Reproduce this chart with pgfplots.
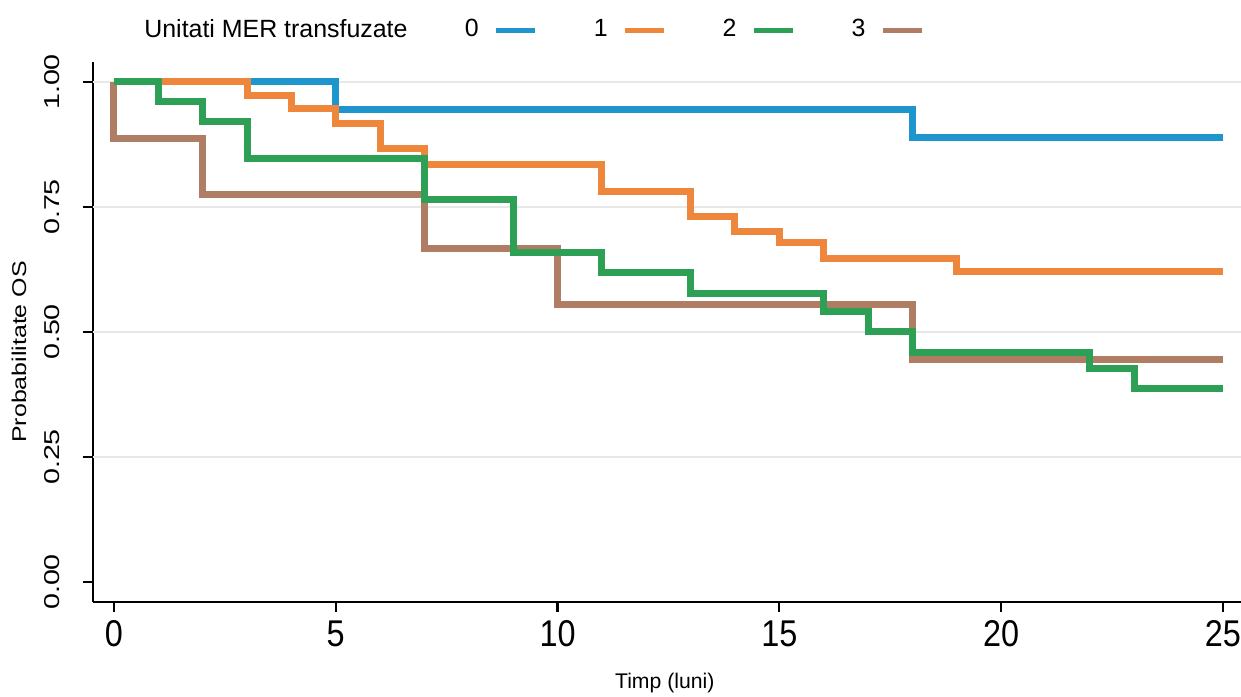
\documentclass[border=0pt]{standalone}
\usepackage{graphicx}
\usepackage{fontspec}
\setmainfont{Liberation Sans}
\usepackage{pgfplots}
\pgfplotsset{compat=1.18}
\definecolor{c0}{RGB}{30,150,205}
\definecolor{c1}{RGB}{238,135,60}
\definecolor{c2}{RGB}{45,160,85}
\definecolor{c3}{RGB}{175,125,100}
\definecolor{gridc}{RGB}{232,232,232}
\begin{document}
\begin{tikzpicture}
\path[use as bounding box] (0,0) rectangle (17.5cm,9.815cm);
\begin{axis}[
  at={(1.311cm,1.326cm)}, anchor=south west,
  scale only axis, width=16.19cm, height=7.615cm,
  xmin=-0.473, xmax=25.41, ymin=-0.04, ymax=1.04,
  axis lines*=left,
  axis line style={black, line width=0.9pt, -},
  tick align=outside,
  major tick length=4pt,
  tick style={black, line width=0.9pt},
  xtick={0,5,10,15,20,25},
  ytick={0,0.25,0.5,0.75,1},
  extra y ticks={0.25,0.5,0.75,1},
  extra y tick labels={},
  extra y tick style={grid=major, major tick length=0pt, major grid style={gridc, line width=0.7pt}},
  /pgf/number format/assume math mode=true,
  yticklabel shift=6pt,
  yticklabel style={/pgf/number format/fixed, /pgf/number format/fixed zerofill, /pgf/number format/precision=2, rotate=90, anchor=south, font=\fontsize{11.5}{13}\selectfont},
  yticklabel={\scalebox{1}[0.75]{\pgfmathprintnumber{\tick}}},
  xticklabel style={font=\fontsize{13}{15}\selectfont},
  xticklabel={\scalebox{1}[1.15]{\pgfmathprintnumber{\tick}}},
  xlabel={Timp (luni)},
  xlabel style={font=\fontsize{8.5}{10}\selectfont, at={(axis description cs:0.498,-0.15)}, anchor=center},
  ylabel={\scalebox{1}[0.8]{Probabilitate OS}},
  ylabel style={font=\fontsize{10}{12}\selectfont, at={(axis description cs:-0.0645,0.463)}, anchor=center, rotate=0},
  legend plot pos=right,
  legend columns=5,
  legend cell align=left,
  legend style={at={(axis description cs:0.040,1.059)}, anchor=west, draw=none, fill=none, inner sep=0pt,
     font=\fontsize{10}{12}\selectfont,
     /tikz/every odd column/.append style={column sep=4pt},
     /tikz/every even column/.append style={column sep=20.5pt}},
  legend image code/.code={\draw[#1] (0cm,0cm) -- (0.55cm,0cm);},
]
\addlegendimage{empty legend}\addlegendentry{Unitati MER transfuzate\hspace*{-5.5pt}}
\addlegendimage{c0, line width=2pt}\addlegendentry{0}
\addlegendimage{c1, line width=2pt}\addlegendentry{1}
\addlegendimage{c2, line width=2pt}\addlegendentry{2}
\addlegendimage{c3, line width=2pt}\addlegendentry{3}

\addplot[forget plot, const plot, c0, line width=2.8pt] coordinates {
(0,1) (5,0.944) (18,0.889) (25,0.889)};
\addplot[forget plot, const plot, c1, line width=2.8pt] coordinates {
(0,1) (3,0.972) (4,0.946) (5,0.916) (6,0.866) (7,0.834) (11,0.78) (13,0.73) (14,0.70) (15,0.678) (16,0.646) (19,0.62) (25,0.62)};
\addplot[forget plot, const plot, c3, line width=2.8pt] coordinates {
(0,1) (0,0.886) (2,0.774) (7,0.666) (10,0.554) (18,0.444) (25,0.444)};
\addplot[forget plot, const plot, c2, line width=2.8pt] coordinates {
(0,1) (1,0.96) (2,0.92) (3,0.846) (7,0.764) (9,0.658) (11,0.618) (13,0.576) (16,0.54) (17,0.50) (18,0.458) (22,0.426) (23,0.386) (25,0.386)};
\end{axis}
\end{tikzpicture}
\end{document}
